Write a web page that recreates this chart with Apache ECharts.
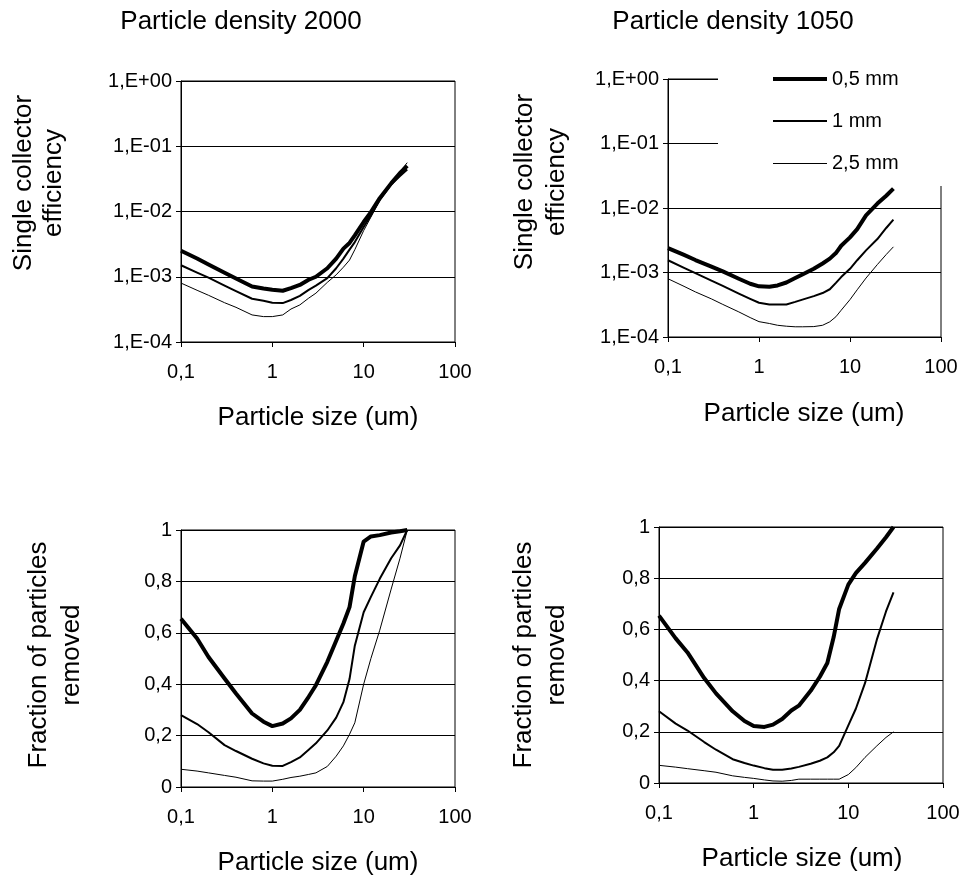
<!DOCTYPE html>
<html>
<head>
<meta charset="utf-8">
<style>html,body{margin:0;padding:0;background:#fff}#c{width:964px;height:879px}</style>
<script src="https://cdn.jsdelivr.net/npm/echarts@6/dist/echarts.min.js"></script>
</head>
<body>
<div id="c"></div>
<script>
// Particle sizes (um)
const sizes = [0.1, 0.15, 0.2, 0.3, 0.4, 0.6, 0.8, 1, 1.3, 1.6, 2, 2.5, 3, 4, 5, 6, 7, 8, 10, 12, 15, 20, 25, 30];
const seriesNames = ['0,5 mm', '1 mm', '2,5 mm'];

// Single collector efficiency, particle density 2000
const eff2000_05 = [2.5e-3, 1.9e-3, 1.54e-3, 1.15e-3, 9.4e-4, 7.1e-4, 6.6e-4, 6.3e-4, 6.1e-4, 6.7e-4, 7.5e-4, 9.0e-4, 1.0e-3, 1.35e-3, 1.9e-3, 2.7e-3, 3.3e-3, 4.3e-3, 6.9e-3, 9.8e-3, 1.6e-2, 2.7e-2, 3.9e-2, 5.0e-2];
const eff2000_1 = [1.5e-3, 1.16e-3, 9.7e-4, 7.3e-4, 6.0e-4, 4.6e-4, 4.3e-4, 4.0e-4, 3.95e-4, 4.4e-4, 5.1e-4, 6.3e-4, 7.3e-4, 9.5e-4, 1.35e-3, 1.9e-3, 2.6e-3, 3.4e-3, 5.8e-3, 8.7e-3, 1.5e-2, 2.6e-2, 3.5e-2, 4.4e-2];
const eff2000_25 = [8.0e-4, 6.2e-4, 5.2e-4, 4.0e-4, 3.4e-4, 2.6e-4, 2.45e-4, 2.45e-4, 2.6e-4, 3.2e-4, 3.7e-4, 4.7e-4, 5.6e-4, 8.2e-4, 1.07e-3, 1.4e-3, 1.8e-3, 2.6e-3, 5.1e-3, 8.2e-3, 1.5e-2, 2.7e-2, 4.1e-2, 5.6e-2];

// Single collector efficiency, particle density 1050
const eff1050_05 = [2.38e-3, 1.87e-3, 1.56e-3, 1.23e-3, 1.04e-3, 8.0e-4, 6.7e-4, 6.1e-4, 6.0e-4, 6.3e-4, 7.0e-4, 8.2e-4, 9.3e-4, 1.14e-3, 1.38e-3, 1.64e-3, 2.0e-3, 2.6e-3, 3.5e-3, 4.7e-3, 7.7e-3, 1.17e-2, 1.55e-2, 2.0e-2];
const eff1050_1 = [1.55e-3, 1.18e-3, 9.8e-4, 7.5e-4, 6.2e-4, 4.7e-4, 3.9e-4, 3.4e-4, 3.2e-4, 3.2e-4, 3.2e-4, 3.5e-4, 3.8e-4, 4.3e-4, 4.8e-4, 5.5e-4, 6.9e-4, 8.5e-4, 1.14e-3, 1.55e-3, 2.2e-3, 3.3e-3, 4.9e-3, 6.6e-3];
const eff1050_25 = [8.0e-4, 6.1e-4, 5.0e-4, 3.9e-4, 3.2e-4, 2.45e-4, 2.0e-4, 1.73e-4, 1.62e-4, 1.52e-4, 1.47e-4, 1.44e-4, 1.44e-4, 1.45e-4, 1.52e-4, 1.72e-4, 2.06e-4, 2.6e-4, 3.8e-4, 5.4e-4, 8.2e-4, 1.33e-3, 1.9e-3, 2.5e-3];

// Fraction of particles removed, particle density 2000
const frac2000_05 = [0.655, 0.578, 0.506, 0.422, 0.364, 0.286, 0.254, 0.237, 0.247, 0.267, 0.30, 0.351, 0.396, 0.487, 0.569, 0.636, 0.70, 0.82, 0.955, 0.975, 0.98, 0.99, 0.995, 1.0];
const frac2000_1 = [0.28, 0.245, 0.213, 0.163, 0.14, 0.11, 0.092, 0.083, 0.082, 0.097, 0.115, 0.145, 0.17, 0.22, 0.27, 0.33, 0.42, 0.55, 0.68, 0.74, 0.81, 0.89, 0.94, 1.0];
const frac2000_25 = [0.069, 0.062, 0.055, 0.045, 0.038, 0.024, 0.023, 0.023, 0.03, 0.037, 0.042, 0.049, 0.055, 0.08, 0.12, 0.16, 0.205, 0.25, 0.4, 0.5, 0.61, 0.77, 0.89, 1.0];

// Fraction of particles removed, particle density 1050
const frac1050_05 = [0.654, 0.565, 0.51, 0.41, 0.35, 0.28, 0.242, 0.223, 0.219, 0.228, 0.25, 0.283, 0.302, 0.36, 0.415, 0.469, 0.57, 0.68, 0.775, 0.82, 0.86, 0.915, 0.96, 1.0];
const frac1050_1 = [0.28, 0.232, 0.205, 0.16, 0.13, 0.093, 0.078, 0.068, 0.058, 0.052, 0.052, 0.057, 0.063, 0.075, 0.087, 0.1, 0.12, 0.145, 0.225, 0.29, 0.39, 0.56, 0.67, 0.745];
const frac1050_25 = [0.069, 0.062, 0.056, 0.048, 0.042, 0.028, 0.022, 0.018, 0.012, 0.008, 0.007, 0.01, 0.015, 0.015, 0.015, 0.015, 0.015, 0.015, 0.033, 0.06, 0.1, 0.145, 0.178, 0.2];

// Tick labels
const xTickValues = [0.1, 1, 10, 100];
const xTickLabels = ['0,1', '1', '10', '100'];
const yLogTickValues = [1e-4, 1e-3, 1e-2, 1e-1, 1];
const yLogTickLabels = ['1,E-04', '1,E-03', '1,E-02', '1,E-01', '1,E+00'];
const yLinTickValues = [0, 0.2, 0.4, 0.6, 0.8, 1];
const yLinTickLabels = ['0', '0,2', '0,4', '0,6', '0,8', '1'];

// Texts
const panelTitles = ['Particle density 2000', 'Particle density 1050'];
const xTitle = 'Particle size (um)';
const yTitleTop = ['Single collector', 'efficiency'];
const yTitleBottom = ['Fraction of particles', 'removed'];

const FONT = "'Liberation Sans', Arial, Helvetica, sans-serif";
const widths = [4, 2, 1];

function lookupLog(vals, labels) {
  return function (v) {
    for (let i = 0; i < vals.length; i++) {
      if (Math.abs(Math.log10(vals[i]) - Math.log10(v)) < 0.01) return labels[i];
    }
    return '';
  };
}
function lookupLin(vals, labels) {
  return function (v) {
    for (let i = 0; i < vals.length; i++) {
      if (Math.abs(vals[i] - v) < 1e-6) return labels[i];
    }
    return '';
  };
}

const grids = [
  { left: 181, top: 81, width: 274, height: 261 },
  { left: 668, top: 79, width: 273, height: 258 },
  { left: 181, top: 530, width: 274, height: 257 },
  { left: 659, top: 527, width: 284, height: 256 }
].map(g => Object.assign(g, { show: true, borderColor: '#000', borderWidth: 1, backgroundColor: 'transparent' }));

const axisCommon = {
  axisLine: { show: true, onZero: false, lineStyle: { color: '#000', width: 1 } },
  axisTick: { show: true, inside: false, length: 5, lineStyle: { color: '#000', width: 1 } },
  minorTick: { show: false },
  minorSplitLine: { show: false }
};

const xAxes = [0, 1, 2, 3].map(i => Object.assign({}, axisCommon, {
  type: 'log', logBase: 10, gridIndex: i, min: 0.1, max: 100, splitNumber: 3,
  splitLine: { show: false },
  axisLabel: { margin: 20, color: '#000', fontSize: 20, fontFamily: FONT, formatter: lookupLog(xTickValues, xTickLabels) }
}));

const yAxes = [0, 1, 2, 3].map(i => {
  const isLog = i < 2;
  return Object.assign({}, axisCommon, isLog ? {
    type: 'log', logBase: 10, min: 1e-4, max: 1, splitNumber: 4,
    axisLabel: { margin: 9, color: '#000', fontSize: 20, fontFamily: FONT, formatter: lookupLog(yLogTickValues, yLogTickLabels) }
  } : {
    type: 'value', min: 0, max: 1, interval: 0.2,
    axisLabel: { margin: 9, color: '#000', fontSize: 20, fontFamily: FONT, formatter: lookupLin(yLinTickValues, yLinTickLabels) }
  }, {
    gridIndex: i,
    splitLine: { show: true, lineStyle: { color: '#000', width: 1 } }
  });
});

const panelData = [
  [eff2000_05, eff2000_1, eff2000_25],
  [eff1050_05, eff1050_1, eff1050_25],
  [frac2000_05, frac2000_1, frac2000_25],
  [frac1050_05, frac1050_1, frac1050_25]
];

const series = [];
panelData.forEach((set, p) => {
  set.forEach((vals, k) => {
    series.push({
      type: 'line',
      name: seriesNames[k],
      xAxisIndex: p, yAxisIndex: p,
      data: sizes.map((s, i) => [s, vals[i]]),
      symbol: 'none', showSymbol: false,
      smooth: false,
      clip: false,
      lineStyle: { color: '#000', width: widths[k], join: 'round' },
      itemStyle: { color: '#000' },
      z: 3 + (2 - k)
    });
  });
});

// legend icons: horizontal bars of the series' line thickness inside a 54x20 box
function barIcon(h) {
  const y0 = Math.floor(10 - h / 2 + 0.5), y1 = y0 + h;
  return 'path://M0,0h0.01v0.01h-0.01Z M54,20h-0.01v-0.01h0.01Z M0,' + y0 + 'H54V' + y1 + 'H0Z';
}

function txt(text, x, y, size, rot) {
  return {
    type: 'text', x: x, y: y, rotation: rot || 0, z: 10,
    style: { text: text, fill: '#000', font: size + 'px ' + FONT, textAlign: 'center', textVerticalAlign: 'middle' }
  };
}

const graphics = [
  txt(panelTitles[0], 241, 22, 26),
  txt(panelTitles[1], 733, 22, 26),
  txt(xTitle, 318, 418, 26),
  txt(xTitle, 804, 414, 26),
  txt(xTitle, 318, 863, 26),
  txt(xTitle, 802, 859, 26),
  txt(yTitleTop[0], 24, 183, 26, Math.PI / 2),
  txt(yTitleTop[1], 54, 183, 26, Math.PI / 2),
  txt(yTitleTop[0], 525, 182, 26, Math.PI / 2),
  txt(yTitleTop[1], 557, 182, 26, Math.PI / 2),
  txt(yTitleBottom[0], 39, 655, 26, Math.PI / 2),
  txt(yTitleBottom[1], 72, 655, 26, Math.PI / 2),
  txt(yTitleBottom[0], 524, 655, 26, Math.PI / 2),
  txt(yTitleBottom[1], 557, 655, 26, Math.PI / 2)
];

const chart = echarts.init(document.getElementById('c'), null, { renderer: 'canvas', width: 964, height: 879 });
chart.setOption({
  animation: false,
  backgroundColor: '#fff',
  textStyle: { fontFamily: FONT },
  grid: grids,
  xAxis: xAxes,
  yAxis: yAxes,
  legend: {
    data: seriesNames.map((n, k) => ({ name: n, icon: barIcon(widths[k]) })),
    orient: 'vertical',
    left: 718, top: 60,
    padding: [9, 50, 13, 55],
    itemWidth: 54, itemHeight: 20, itemGap: 22,
    backgroundColor: '#fff',
    borderWidth: 0,
    itemStyle: { color: '#000', borderWidth: 0 },
    textStyle: { color: '#000', fontSize: 20, fontFamily: FONT },
    z: 20
  },
  graphic: graphics,
  series: series
});
</script>
</body>
</html>
